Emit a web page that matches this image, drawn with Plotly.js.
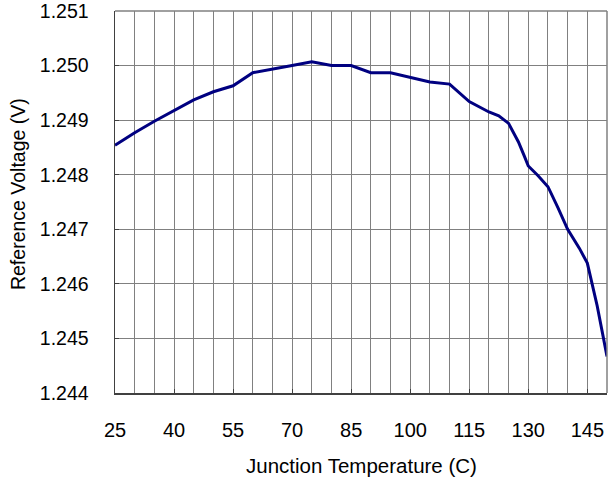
<!DOCTYPE html>
<html>
<head>
<meta charset="utf-8">
<script src="https://cdn.plot.ly/plotly-3.0.1.min.js"></script>
<style>html,body{margin:0;padding:0;background:#fff;}#chart{width:608px;height:479px;}</style>
</head>
<body>
<div id="chart"></div>
<script>
const temperature = [25, 30, 35, 40, 45, 50, 55, 60, 65, 70, 75, 80, 85, 90, 95, 100, 105, 110, 115, 120, 122.5, 125, 127.5, 129, 130, 132.5, 135, 137.5, 140, 143, 145, 147.5, 150];
const voltage = [1.24854, 1.24877, 1.24898, 1.24917, 1.24937, 1.24952, 1.24963, 1.24987, 1.24993, 1.25000, 1.25007, 1.25000, 1.25000, 1.24987, 1.24987, 1.24978, 1.24970, 1.24966, 1.24934, 1.24915, 1.24908, 1.24894, 1.24860, 1.24834, 1.24816, 1.24798, 1.24778, 1.24740, 1.24700, 1.24665, 1.24638, 1.24560, 1.24467];
const xTitle = 'Junction Temperature (C)';
const yTitle = 'Reference Voltage (V)';

const font = 'Liberation Sans, Arial, sans-serif';
const trace = {
  x: temperature, y: voltage, type: 'scatter', mode: 'lines',
  line: {color: '#000080', width: 3}, hoverinfo: 'skip'
};
const layout = {
  width: 608, height: 479,
  margin: {l: 115, r: 1, t: 11, b: 86},
  paper_bgcolor: '#fff', plot_bgcolor: '#fff',
  showlegend: false,
  font: {family: font, color: '#000'},
  xaxis: {
    range: [25, 150], tick0: 25, dtick: 15,
    showgrid: true, gridcolor: '#808080', gridwidth: 1,
    minor: {tick0: 25, dtick: 5, showgrid: true, gridcolor: '#808080', gridwidth: 1},
    showline: true, linecolor: '#404040', linewidth: 1.5,
    ticks: 'inside', ticklen: 4, tickcolor: '#404040',
    tickfont: {family: font, size: 20, color: '#000'},
    ticklabelstandoff: 18,
    ticklabeloverflow: 'allow',
    zeroline: false
  },
  yaxis: {
    range: [1.244, 1.251], tick0: 1.244, dtick: 0.001, tickformat: '.3f',
    showgrid: true, gridcolor: '#808080', gridwidth: 1,
    showline: true, linecolor: '#404040', linewidth: 1.5,
    ticks: 'inside', ticklen: 4, tickcolor: '#404040',
    tickfont: {family: font, size: 19.5, color: '#000'},
    ticklabelstandoff: 21,
    ticklabeloverflow: 'allow',
    zeroline: false
  },
  shapes: [
    {type: 'line', xref: 'paper', yref: 'paper', x0: 0, x1: 1, y0: 1, y1: 1, line: {color: '#808080', width: 1.5}},
    {type: 'line', xref: 'paper', yref: 'paper', x0: 1, x1: 1, y0: 0, y1: 1, line: {color: '#808080', width: 1.5}}
  ],
  annotations: [
    {text: xTitle, xref: 'paper', yref: 'paper', x: 0.5, y: -0.191, xanchor: 'center', yanchor: 'middle',
     showarrow: false, font: {family: font, size: 20.5, color: '#000'}},
    {text: yTitle, xref: 'paper', yref: 'paper', x: -0.197, y: 0.521, xanchor: 'center', yanchor: 'middle',
     textangle: -90, showarrow: false, font: {family: font, size: 19.5, color: '#000'}}
  ]
};
Plotly.newPlot('chart', [trace], layout, {staticPlot: true, displayModeBar: false});
</script>
</body>
</html>
